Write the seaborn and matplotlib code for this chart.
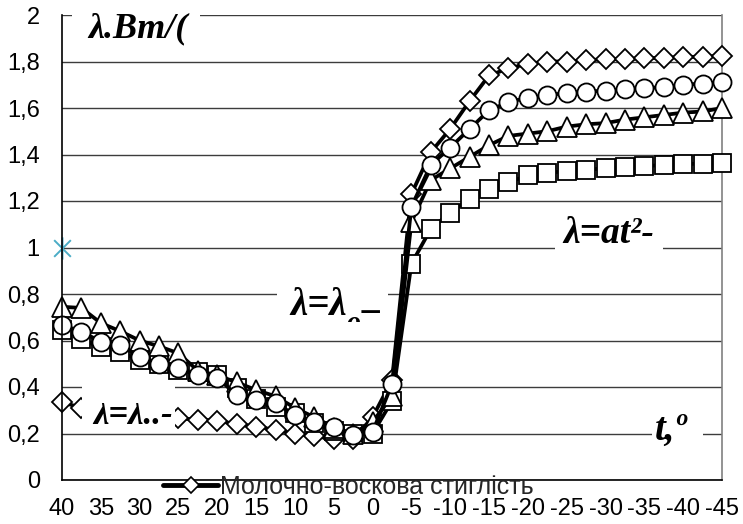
import numpy as np
import pandas as pd
import matplotlib
matplotlib.use("Agg")
import matplotlib.pyplot as plt
import seaborn as sns
from matplotlib.path import Path
from matplotlib.patches import Rectangle
from matplotlib.lines import Line2D

# ---------------- data ----------------
temps = [40, 37.5, 35, 32.5, 30, 27.5, 25, 22.5, 20, 17.5, 15, 12.5, 10, 7.5, 5, 2.5, 0,
         -2.5, -5, -7.5, -10, -12.5, -15, -17.5, -20, -22.5, -25, -27.5, -30, -32.5,
         -35, -37.5, -40, -42.5, -45]
x_tick_labels = ["40", "35", "30", "25", "20", "15", "10", "5", "0", "-5", "-10", "-15",
                 "-20", "-25", "-30", "-35", "-40", "-45"]

milk_wax = [0.335, 0.31, 0.30, 0.29, 0.28, 0.27, 0.265, 0.26, 0.255, 0.24, 0.23, 0.215,
            0.20, 0.19, 0.175, 0.175, 0.27, 0.43, 1.23, 1.41, 1.51, 1.63, 1.74, 1.77,
            1.79, 1.80, 1.80, 1.805, 1.81, 1.81, 1.815, 1.815, 1.82, 1.82, 1.825]
series_square = [0.645, 0.605, 0.57, 0.55, 0.515, 0.50, 0.475, 0.465, 0.45, 0.395, 0.35,
                 0.315, 0.29, 0.245, 0.21, 0.197, 0.20, 0.34, 0.93, 1.08, 1.15, 1.21,
                 1.25, 1.28, 1.31, 1.32, 1.33, 1.335, 1.34, 1.345, 1.35, 1.355, 1.36,
                 1.36, 1.365]
series_triangle = [0.745, 0.74, 0.675, 0.64, 0.60, 0.575, 0.545, 0.47, 0.45, 0.42, 0.387,
                   0.36, 0.31, 0.27, 0.225, 0.20, 0.25, 0.36, 1.11, 1.29, 1.34, 1.39,
                   1.44, 1.48, 1.49, 1.50, 1.52, 1.53, 1.535, 1.55, 1.56, 1.57, 1.58,
                   1.585, 1.60]
series_circle = [0.667, 0.638, 0.595, 0.58, 0.53, 0.50, 0.48, 0.45, 0.44, 0.365, 0.344,
                 0.33, 0.28, 0.25, 0.228, 0.193, 0.207, 0.413, 1.175, 1.355, 1.43, 1.51,
                 1.59, 1.625, 1.645, 1.655, 1.665, 1.67, 1.675, 1.68, 1.685, 1.69, 1.70,
                 1.705, 1.71]
extra_point_value = [1.0]  # single cyan star point at first category

legend_label = "Молочно-воскова стиглість"
y_ticks = [0, 0.2, 0.4, 0.6, 0.8, 1.0, 1.2, 1.4, 1.6, 1.8, 2.0]
y_tick_labels = ["0", "0,2", "0,4", "0,6", "0,8", "1", "1,2", "1,4", "1,6", "1,8", "2"]

# ---------------- style ----------------
sns.set_style("white")
plt.rcParams["font.family"] = ["Liberation Sans", "DejaVu Sans"]

W, H = 743, 524
L, R, T, B = 62, 722, 15, 480
fig = plt.figure(figsize=(W / 100, H / 100), dpi=100)
ax = fig.add_axes([L / W, 1 - B / H, (R - L) / W, (B - T) / H])

idx = np.arange(len(temps))
df = pd.DataFrame({"idx": idx, "milk_wax": milk_wax, "square": series_square,
                   "triangle": series_triangle, "circle": series_circle})

specs = [("milk_wax", "D", 10.5), ("square", "s", 12.5),
         ("triangle", "^", 14.0), ("circle", "o", 13.0)]
for col, mk, ms in specs:
    sns.lineplot(data=df, x="idx", y=col, ax=ax, color="black", linewidth=2.7,
                 marker=mk, markersize=ms, markerfacecolor="white",
                 markeredgecolor="black", markeredgewidth=1.3, clip_on=False,
                 legend=False, zorder=3)

# cyan asterisk point
star = Path([(0, -1), (0, 1), (-0.75, -0.75), (0.75, 0.75), (-0.75, 0.75), (0.75, -0.75)],
            [Path.MOVETO, Path.LINETO, Path.MOVETO, Path.LINETO, Path.MOVETO, Path.LINETO])
sns.lineplot(x=[0], y=extra_point_value, ax=ax, marker=star, markersize=16,
             markerfacecolor="none", markeredgecolor="#4bacc6", markeredgewidth=1.4,
             color="#4bacc6", clip_on=False, legend=False, zorder=4)

# ---------------- axes ----------------
ax.set_xlim(0, len(temps) - 1)
ax.set_ylim(0, 2)
ax.set_xticks(idx)
ax.set_xticklabels([x_tick_labels[i // 2] if i % 2 == 0 else "" for i in idx])
ax.set_yticks(y_ticks)
ax.set_yticklabels(y_tick_labels)
ax.set_xlabel("")
ax.set_ylabel("")
ax.tick_params(axis="x", direction="out", length=6, width=1, color="black",
               labelsize=17, pad=7, labelcolor="black")
ax.tick_params(axis="y", direction="out", length=7, width=1, color="black",
               labelsize=17, pad=9, labelcolor="black")
ax.yaxis.grid(True, color="#3c3c3c", linewidth=1.0)
ax.xaxis.grid(False)
ax.set_axisbelow(True)
for s in ["left", "bottom"]:
    ax.spines[s].set_color("black")
    ax.spines[s].set_linewidth(1.2)
ax.spines["top"].set_visible(False)
ax.spines["right"].set_color("#808080")
ax.spines["right"].set_linewidth(1.2)
ax.spines["left"].set_zorder(5)
ax.spines["bottom"].set_zorder(5)


def fx(px):
    return (px - L) / (R - L)


def fy(py):
    return (B - py) / (B - T)


def white_box(x0, y0, x1, y1):
    r = Rectangle((fx(x0), fy(y1)), fx(x1) - fx(x0), fy(y0) - fy(y1),
                  transform=ax.transAxes, facecolor="white", edgecolor="none",
                  zorder=6, clip_on=False)
    ax.add_patch(r)
    return r


tfont = dict(family="Liberation Serif", weight="bold", style="italic", color="black")

# text boxes
white_box(72, 4, 200, 44)
ax.text(fx(88), fy(37), "λ.Bm/(", transform=ax.transAxes, fontsize=26, zorder=7,
        va="baseline", ha="left", **tfont)

white_box(555, 212, 663, 256)
ax.text(fx(563), fy(243), "λ=at²-", transform=ax.transAxes, fontsize=27, zorder=7,
        va="baseline", ha="left", **tfont)

boxC = white_box(277, 278, 388, 322)
tC = ax.text(fx(290), fy(315), "λ=λ", transform=ax.transAxes, fontsize=28, zorder=7,
             va="baseline", ha="left", **tfont)
oC = ax.annotate("o", xy=(1, 0), xycoords=tC, xytext=(0, -4), textcoords="offset points",
                 fontsize=20, zorder=7, va="baseline", ha="left", **tfont)
oC.set_clip_path(boxC)
oC.set_clip_on(True)
ax.annotate("–", xy=(1, 0), xycoords=oC, xytext=(1, 11), textcoords="offset points",
            fontsize=26, zorder=7, va="baseline", ha="left", **tfont)

boxD = white_box(82, 386, 175, 431)
clipD = Rectangle((fx(82), fy(431)), fx(175) - fx(82), fy(403) - fy(431),
                  transform=ax.transAxes, facecolor="none", edgecolor="none")
ax.add_patch(clipD)
tD = ax.text(fx(93), fy(424), "λ=λ..-", transform=ax.transAxes, fontsize=25, zorder=7,
             va="baseline", ha="left", **tfont)
tD.set_clip_path(clipD)
tD.set_clip_on(True)

white_box(652, 418, 703, 448)
ax.text(fx(655), fy(440), "t,º", transform=ax.transAxes, fontsize=28, zorder=7,
        va="baseline", ha="left", **tfont)

# legend
handle = Line2D([], [], color="black", linewidth=3.5, marker="D", markersize=8,
                markerfacecolor="white", markeredgecolor="black", markeredgewidth=1.2)
fig.legend([handle], [legend_label], loc="center left",
           bbox_to_anchor=(163 / W, 1 - 487 / H), frameon=False, fontsize=18,
           handlelength=2.2, handletextpad=0.1, borderpad=0, borderaxespad=0)

fig.savefig("out.png", dpi=100)
